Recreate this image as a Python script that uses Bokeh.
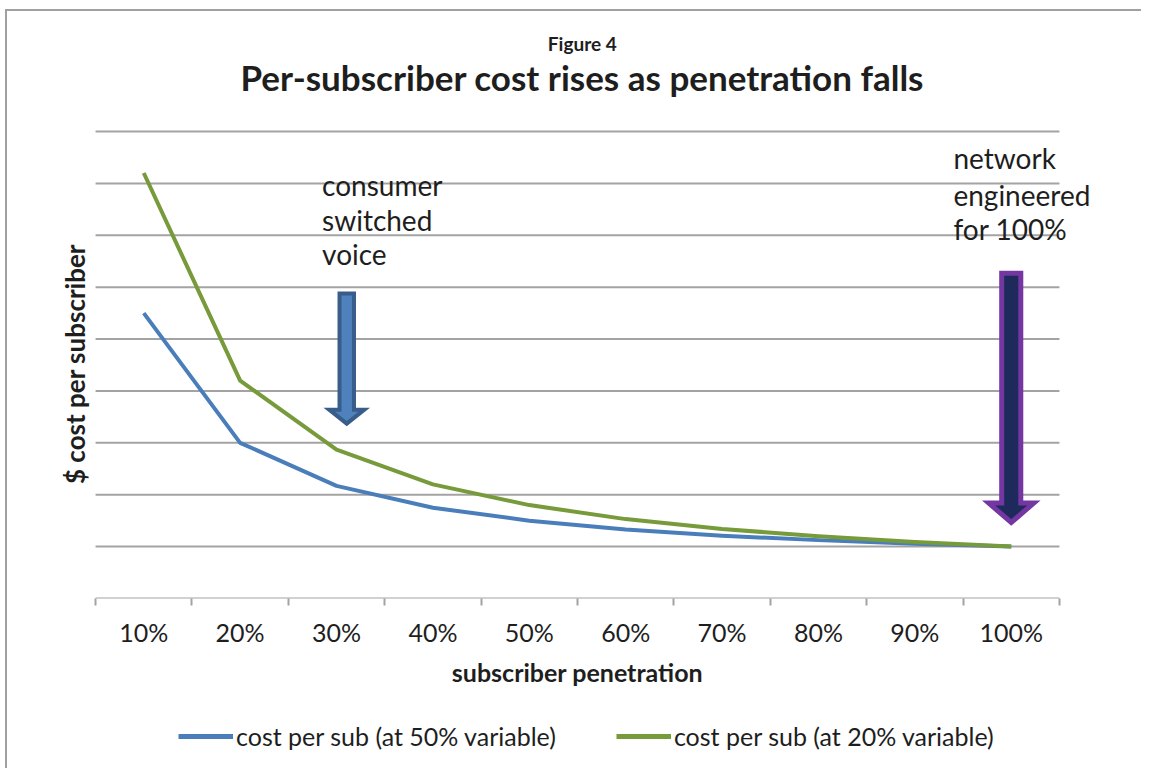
import math
from bokeh.plotting import figure
from bokeh.layouts import column
from bokeh.models import (Range1d, FixedTicker, Legend, LegendItem, Label)
from bokeh.embed import file_html
from bokeh.resources import INLINE

# ---- data ----
categories = ["10%", "20%", "30%", "40%", "50%", "60%", "70%", "80%", "90%", "100%"]
cost_50_variable = [5.5, 3.0, 2.17, 1.75, 1.5, 1.33, 1.21, 1.125, 1.056, 1.0]
cost_20_variable = [8.2, 4.2, 2.87, 2.2, 1.8, 1.53, 1.34, 1.2, 1.09, 1.0]
series_names = ["cost per sub (at 50% variable)", "cost per sub (at 20% variable)"]
gridline_values = [1, 2, 3, 4, 5, 6, 7, 8, 9]
title_text = "Per-subscriber cost rises as penetration falls"
subtitle_text = "Figure 4"

# annotation texts (lines, x in category units, baseline y in data units)
voice_lines = ["consumer", "switched", "voice"]
voice_x = 2.85
voice_y = [7.97, 7.30, 6.63]
network_lines = ["network", "engineered", "for 100%"]
network_x = 9.40
network_y = [8.48, 7.78, 7.13]

# block arrows: (center x, top y, neck y, tip y, half shaft, half head)
voice_arrow = (3.106, 5.88, 3.64, 3.37, 0.075, 0.182)
network_arrow = (10.0, 6.27, 1.84, 1.465, 0.099, 0.234)

BLUE = "#4a7ebb"
GREEN = "#779a3a"
GRID = "#a3a3a3"
TEXT = "#1e1e1e"
FONT = "Lato"

n = len(categories)
xs = list(range(1, n + 1))
x_lo, x_hi = 0.5, n + 0.5
pad_x = 0.343       # extra room at both sides of the category band (for texts)
y_top = 11.313      # room above the grid for the titles

p = figure(width=1136, height=689, output_backend="svg", toolbar_location=None,
           title=None, x_range=Range1d(x_lo - pad_x, x_hi + pad_x),
           y_range=Range1d(0, y_top),
           min_border_left=55, min_border_right=51, min_border_top=0,
           min_border_bottom=102)
p.outline_line_color = None
p.background_fill_color = "white"
p.border_fill_color = "white"

# titles (drawn inside the frame area above the grid)
x_mid = (x_lo + x_hi) / 2 + 0.05
p.add_layout(Label(x=x_mid, y=10.69, text=subtitle_text, text_font=FONT,
                   text_font_style="bold", text_font_size="19px", text_color=TEXT,
                   text_align="center", text_baseline="alphabetic"))
p.add_layout(Label(x=x_mid, y=10.05, text=title_text, text_font=FONT,
                   text_font_style="bold", text_font_size="35px", text_color=TEXT,
                   text_align="center", text_baseline="alphabetic"))

# grid lines across the category band only, plus the category axis line
p.xgrid.grid_line_color = None
p.ygrid.grid_line_color = None
p.segment(x0=[x_lo] * len(gridline_values), x1=[x_hi] * len(gridline_values),
          y0=gridline_values, y1=gridline_values, line_color=GRID, line_width=2)
p.segment(x0=[x_lo], x1=[x_hi], y0=[0], y1=[0], line_color=GRID, line_width=2)

# x axis
xa = p.xaxis[0]
xa.ticker = FixedTicker(ticks=xs, minor_ticks=[x - 0.5 for x in xs] + [xs[-1] + 0.5])
xa.major_label_overrides = {x: c for x, c in zip(xs, categories)}
xa.major_tick_line_color = None
xa.major_tick_out = 0
xa.major_tick_in = 0
xa.minor_tick_line_color = GRID
xa.minor_tick_line_width = 2
xa.minor_tick_out = 7
xa.minor_tick_in = 0
xa.axis_line_color = None
xa.major_label_text_font = FONT
xa.major_label_text_font_size = "25px"
xa.major_label_text_color = TEXT
xa.major_label_standoff = 11
xa.axis_label = "subscriber penetration"
xa.axis_label_text_font = FONT
xa.axis_label_text_font_style = "bold"
xa.axis_label_text_font_size = "25px"
xa.axis_label_text_color = TEXT
xa.axis_label_standoff = 7

p.yaxis.visible = False
p.add_layout(Label(x=x_lo - 0.218, y=4.52, text="$ cost per subscriber", angle=math.pi / 2,
                   text_font=FONT, text_font_style="bold", text_font_size="26px",
                   text_color=TEXT, text_align="center", text_baseline="middle"))

# lines
r1 = p.line(xs, cost_50_variable, line_color=BLUE, line_width=4, line_join="round")
r2 = p.line(xs, cost_20_variable, line_color=GREEN, line_width=4, line_join="round")


def block_arrow(spec):
    xc, ytop, yneck, ytip, hs, hh = spec
    axs = [xc - hs, xc + hs, xc + hs, xc + hh, xc, xc - hh, xc - hs]
    ays = [ytop, ytop, yneck, yneck, ytip, yneck, yneck]
    return axs, ays


ax1, ay1 = block_arrow(voice_arrow)
p.patch(ax1, ay1, fill_color="#4f81bd", line_color="#385d8a", line_width=4,
        line_join="miter")
ax2, ay2 = block_arrow(network_arrow)
p.patch(ax2, ay2, fill_color="#1f2a5c", line_color="#7436a1", line_width=5,
        line_join="miter")

for txt, yy in zip(voice_lines, voice_y):
    p.add_layout(Label(x=voice_x, y=yy, text=txt, text_font=FONT, text_font_size="28px",
                       text_color=TEXT, text_baseline="alphabetic"))
for txt, yy in zip(network_lines, network_y):
    p.add_layout(Label(x=network_x, y=yy, text=txt, text_font=FONT, text_font_size="28px",
                       text_color=TEXT, text_baseline="alphabetic"))

# legend strip below the chart (same line styles as the series; the series
# lie outside this strip's ranges so only the legend shows)
pl = figure(width=1136, height=70, output_backend="svg", toolbar_location=None,
            x_axis_location=None, y_axis_location=None,
            x_range=Range1d(-2, -1), y_range=Range1d(-2, -1),
            min_border=0, min_border_left=0, min_border_right=0,
            min_border_top=0, min_border_bottom=0)
pl.outline_line_color = None
pl.xgrid.visible = False
pl.ygrid.visible = False
lr1 = pl.line(xs, cost_50_variable, line_color=BLUE, line_width=5)
lr2 = pl.line(xs, cost_20_variable, line_color=GREEN, line_width=5)
legend = Legend(items=[LegendItem(label=series_names[0], renderers=[lr1]),
                       LegendItem(label=series_names[1], renderers=[lr2])],
                orientation="horizontal", location=(116, 19),
                glyph_width=55, glyph_height=20, label_standoff=3, spacing=60,
                label_text_font=FONT, label_text_font_size="25px",
                label_text_color=TEXT, border_line_color=None,
                background_fill_alpha=0, margin=0, padding=4)
pl.add_layout(legend, "center")

layout = column(p, pl, spacing=0)
layout.styles = {"margin-left": "7px", "margin-top": "11px",
                 "box-shadow": "-2px -2px 0 0 #a0a0a0"}
open("out.html", "w").write(file_html(layout, INLINE))
